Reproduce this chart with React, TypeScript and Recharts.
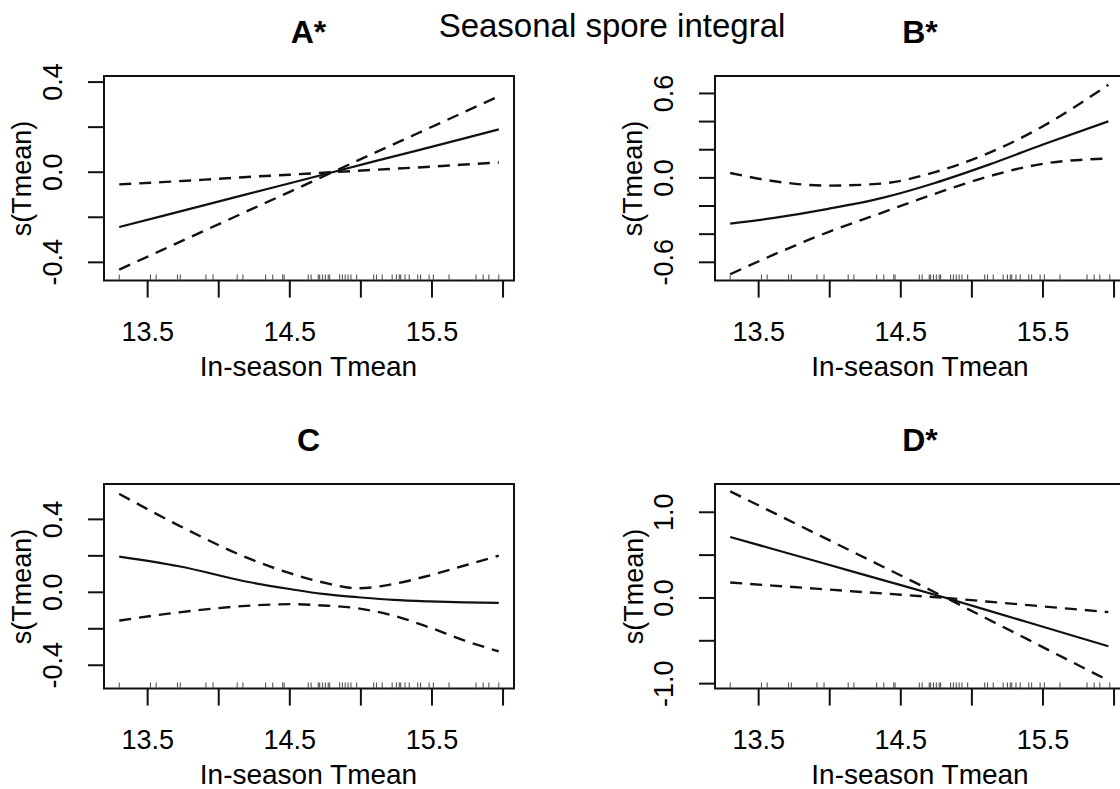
import React from 'react';
import { ComposedChart, Line, Scatter, XAxis, YAxis, ReferenceArea } from 'recharts';

const FONT = '"Liberation Sans", Arial, Helvetica, sans-serif';

// observed in-season Tmean values, drawn as a rug under every panel
const rugTmean = [
  13.3, 13.52, 13.56, 13.71, 13.73, 13.91, 13.96, 14.13, 14.17, 14.33, 14.38, 14.45,
  14.46, 14.63, 14.65, 14.7, 14.71, 14.73, 14.75, 14.77, 14.78, 14.85, 14.87, 14.89,
  14.91, 14.93, 14.97, 15.09, 15.11, 15.15, 15.22, 15.25, 15.27, 15.28, 15.31, 15.34,
  15.4, 15.42, 15.48, 15.51, 15.62, 15.81, 15.86, 15.9, 15.97,
];

const xTicks = [13.5, 14, 14.5, 15, 15.5, 16];
const xLabels = [13.5, 14.5, 15.5];

// A*
const tmeanA = [13.3, 13.6, 13.9, 14.2, 14.5, 14.8, 15.1, 15.4, 15.7, 15.97];
const fitA = [-0.243, -0.195, -0.146, -0.097, -0.049, 0.0, 0.049, 0.097, 0.146, 0.19];
const upperA = [-0.054, -0.044, -0.033, -0.021, -0.011, 0.0, 0.087, 0.173, 0.259, 0.337];
const lowerA = [-0.432, -0.346, -0.259, -0.173, -0.087, 0.0, 0.011, 0.021, 0.033, 0.043];
const yTicksA = [-0.4, -0.2, 0, 0.2, 0.4];
const yLabelsA = [-0.4, 0, 0.4];

// B*
const tmeanB = [13.3, 13.61, 13.99, 14.37, 14.74, 15.12, 15.5, 15.96];
const fitB = [-0.325, -0.284, -0.22, -0.142, -0.036, 0.094, 0.237, 0.402];
const upperB = [0.035, -0.024, -0.055, -0.04, 0.041, 0.177, 0.367, 0.662];
const lowerB = [-0.685, -0.544, -0.385, -0.247, -0.113, 0.011, 0.1, 0.138];
const yTicksB = [-0.6, -0.4, -0.2, 0, 0.2, 0.4, 0.6];
const yLabelsB = [-0.6, 0, 0.6];

// C
const tmeanC = [13.3, 13.72, 14.22, 14.5, 14.73, 14.98, 15.23, 15.48, 15.73, 15.97];
const fitC = [0.196, 0.143, 0.055, 0.018, -0.009, -0.027, -0.042, -0.05, -0.055, -0.058];
const upperC = [0.54, 0.366, 0.183, 0.105, 0.055, 0.022, 0.046, 0.092, 0.147, 0.201];
const lowerC = [-0.155, -0.11, -0.073, -0.065, -0.072, -0.088, -0.128, -0.192, -0.265, -0.324];
const yTicksC = [-0.4, -0.2, 0, 0.2, 0.4];
const yLabelsC = [-0.4, 0, 0.4];

// D*
const tmeanD = [13.3, 13.6, 13.9, 14.2, 14.5, 14.82, 15.1, 15.4, 15.7, 15.96];
const fitD = [0.712, 0.571, 0.431, 0.29, 0.15, 0.0, -0.139, -0.287, -0.436, -0.564];
const upperD = [1.244, 0.998, 0.753, 0.507, 0.262, 0.0, -0.041, -0.084, -0.128, -0.165];
const lowerD = [0.18, 0.144, 0.109, 0.073, 0.038, 0.0, -0.237, -0.49, -0.744, -0.963];
const yTicksD = [-1, -0.5, 0, 0.5, 1];
const yLabelsD = [-1, 0, 1];

const X_DOMAIN: [number, number] = [13.193, 16.077];
const BOX_W = 410;
const BOX_H = 204.6;
const M = { top: 70, right: 40, bottom: 0, left: 10 };
const Y_AXIS_W = 100;
const X_AXIS_H = 120;
const CHART_W = M.left + Y_AXIS_W + BOX_W + M.right;
const CHART_H = M.top + BOX_H + X_AXIS_H;

const LEFT_COL = 103.5;
const RIGHT_COL = 715;
const TOP_ROW = 76.3;
const BOTTOM_ROW = 484.2;

const DASH = '12 8';

const buildRows = (t: number[], fit: number[], upper: number[], lower: number[]) =>
  t.map((x, i) => ({ x, fit: fit[i], upper: upper[i], lower: lower[i] }));

const RugMark = (props: any) => {
  const { cx, cy } = props;
  return <line x1={cx} x2={cx} y1={cy} y2={cy - 6} stroke="#555" strokeWidth={1.1} />;
};

interface PanelProps {
  tmean: number[];
  fit: number[];
  upper: number[];
  lower: number[];
  yDomain: [number, number];
  yTicks: number[];
  yLabels: number[];
  boxLeft: number;
  boxTop: number;
  curve: 'linear' | 'monotone';
}

const Panel: React.FC<PanelProps> = ({ tmean, fit, upper, lower, yDomain, yTicks, yLabels, boxLeft, boxTop, curve }) => {
  const rows = buildRows(tmean, fit, upper, lower);
  const rug = rugTmean.map((x) => ({ x, y: yDomain[0] }));
  const boxBottom = M.top + BOX_H;
  const yLabelX = M.left + Y_AXIS_W - 51;

  const XTick = (p: any) => {
    const v = p.payload.value;
    if (!xLabels.includes(v)) return <g />;
    return (
      <text x={p.x} y={boxBottom + 51} textAnchor="middle" dominantBaseline="central" fontSize={27} fontFamily={FONT} fill="#000">
        {String(v)}
      </text>
    );
  };

  const YTick = (p: any) => {
    const v = p.payload.value;
    if (!yLabels.some((l) => Math.abs(l - v) < 1e-9)) return <g />;
    return (
      <text
        x={yLabelX}
        y={p.y}
        transform={`rotate(-90 ${yLabelX} ${p.y})`}
        textAnchor="middle"
        dominantBaseline="central"
        fontSize={27}
        fontFamily={FONT}
        fill="#000"
      >
        {v.toFixed(1)}
      </text>
    );
  };

  return (
    <div style={{ position: 'absolute', left: boxLeft - M.left - Y_AXIS_W, top: boxTop - M.top }}>
      <ComposedChart width={CHART_W} height={CHART_H} data={rows} margin={M}>
        <XAxis
          type="number"
          dataKey="x"
          domain={X_DOMAIN}
          ticks={xTicks}
          interval={0}
          allowDataOverflow
          axisLine={false}
          tickSize={17}
          tickMargin={0}
          tickLine={{ stroke: '#111', strokeWidth: 2 }}
          tick={XTick}
          height={X_AXIS_H}
        />
        <YAxis
          type="number"
          dataKey="y"
          domain={yDomain}
          ticks={yTicks}
          interval={0}
          allowDataOverflow
          axisLine={false}
          tickSize={16}
          tickMargin={0}
          tickLine={{ stroke: '#111', strokeWidth: 2 }}
          tick={YTick}
          width={Y_AXIS_W}
        />
        <Scatter data={rug} dataKey="y" shape={RugMark} isAnimationActive={false} />
        <Line dataKey="upper" type={curve} stroke="#111" strokeWidth={2.4} strokeDasharray={DASH} dot={false} isAnimationActive={false} />
        <Line dataKey="lower" type={curve} stroke="#111" strokeWidth={2.4} strokeDasharray={DASH} dot={false} isAnimationActive={false} />
        <Line dataKey="fit" type={curve} stroke="#111" strokeWidth={2.2} dot={false} isAnimationActive={false} />
        <ReferenceArea
          x1={X_DOMAIN[0]}
          x2={X_DOMAIN[1]}
          y1={yDomain[0]}
          y2={yDomain[1]}
          fill="none"
          stroke="#111"
          strokeWidth={2}
          ifOverflow="visible"
        />
      </ComposedChart>
    </div>
  );
};

const panelTitles = ['A*', 'B*', 'C', 'D*'];
const panelBoxes = [
  [LEFT_COL, TOP_ROW],
  [RIGHT_COL, TOP_ROW],
  [LEFT_COL, BOTTOM_ROW],
  [RIGHT_COL, BOTTOM_ROW],
];

export default function App() {
  return (
    <div style={{ position: 'absolute', left: 0, top: 0, width: 1120, height: 789, overflow: 'hidden', background: '#fff' }}>
      <Panel tmean={tmeanA} fit={fitA} upper={upperA} lower={lowerA} yDomain={[-0.481, 0.427]} yTicks={yTicksA} yLabels={yLabelsA} boxLeft={LEFT_COL} boxTop={TOP_ROW} curve="linear" />
      <Panel tmean={tmeanB} fit={fitB} upper={upperB} lower={lowerB} yDomain={[-0.73, 0.724]} yTicks={yTicksB} yLabels={yLabelsB} boxLeft={RIGHT_COL} boxTop={TOP_ROW} curve="monotone" />
      <Panel tmean={tmeanC} fit={fitC} upper={upperC} lower={lowerC} yDomain={[-0.528, 0.594]} yTicks={yTicksC} yLabels={yLabelsC} boxLeft={LEFT_COL} boxTop={BOTTOM_ROW} curve="monotone" />
      <Panel tmean={tmeanD} fit={fitD} upper={upperD} lower={lowerD} yDomain={[-1.058, 1.33]} yTicks={yTicksD} yLabels={yLabelsD} boxLeft={RIGHT_COL} boxTop={BOTTOM_ROW} curve="linear" />

      <svg width={1120} height={789} style={{ position: 'absolute', left: 0, top: 0, pointerEvents: 'none' }} fontFamily={FONT}>
        <text x={612} y={25} textAnchor="middle" dominantBaseline="central" fontSize={33} fill="#000">
          Seasonal spore integral
        </text>
        {panelBoxes.map(([bx, by], i) => (
          <g key={panelTitles[i]}>
            <text x={bx + BOX_W / 2} y={by - 44} textAnchor="middle" dominantBaseline="central" fontSize={32} fontWeight="bold" fill="#000">
              {panelTitles[i]}
            </text>
            <text x={bx + BOX_W / 2} y={by + BOX_H + 86} textAnchor="middle" dominantBaseline="central" fontSize={28} fill="#000">
              In-season Tmean
            </text>
            <text
              x={bx - 81.5}
              y={by + BOX_H / 2}
              transform={`rotate(-90 ${bx - 81.5} ${by + BOX_H / 2})`}
              textAnchor="middle"
              dominantBaseline="central"
              fontSize={27}
              fill="#000"
            >
              s(Tmean)
            </text>
          </g>
        ))}
      </svg>
    </div>
  );
}
